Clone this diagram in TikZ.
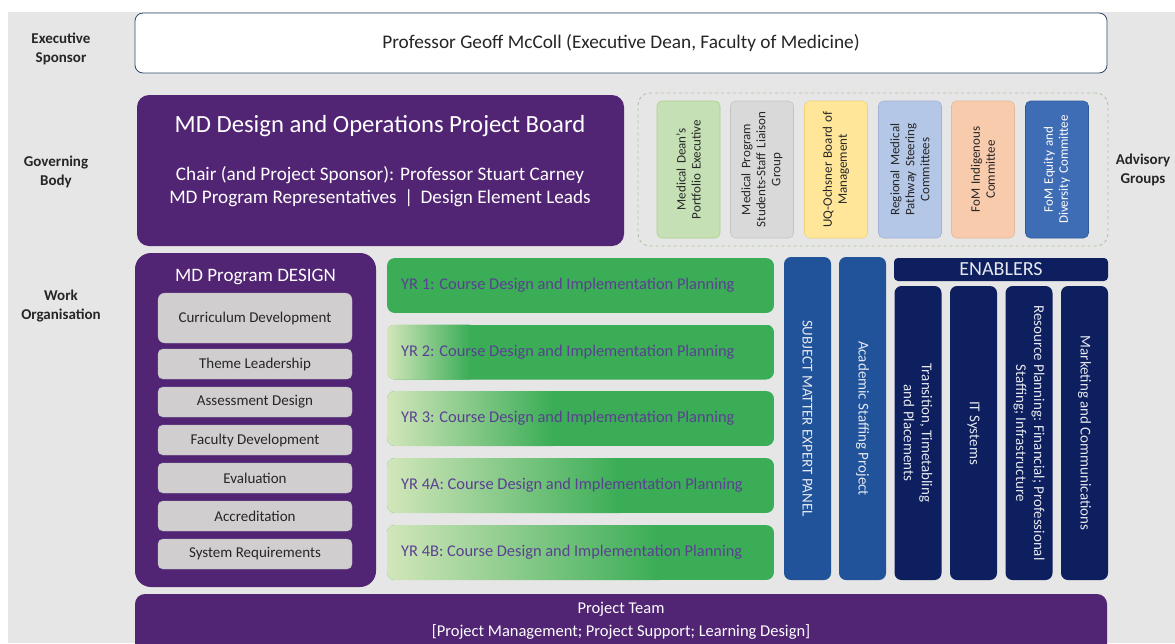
\documentclass[tikz,border=0pt]{standalone}
\usepackage{fontspec}
\setmainfont{Carlito}
\definecolor{bg}{HTML}{E7E6E6}
\definecolor{uqpurple}{HTML}{512474}
\definecolor{execline}{HTML}{2E4A6B}
\definecolor{graybox}{HTML}{D0CECE}
\definecolor{grayline}{HTML}{BFBFBF}
\definecolor{darktext}{HTML}{262626}
\definecolor{barGreen}{HTML}{3AAD56}
\definecolor{barLight}{HTML}{D2E6BA}
\definecolor{barText}{HTML}{5A4192}
\definecolor{smeBlue}{HTML}{21539A}
\definecolor{navy}{HTML}{0D1F5E}
\definecolor{paleText}{HTML}{E4E7EF}
\definecolor{frameLine}{HTML}{A8C4A0}
\definecolor{advGreen}{HTML}{C5E0B4}
\definecolor{advGreenL}{HTML}{A9D18E}
\definecolor{advGray}{HTML}{D9D9D9}
\definecolor{advGrayL}{HTML}{C4C4C4}
\definecolor{advYellow}{HTML}{FFE699}
\definecolor{advYellowL}{HTML}{EED27A}
\definecolor{advBlue}{HTML}{B4C7E7}
\definecolor{advBlueL}{HTML}{9FB3D6}
\definecolor{advPeach}{HTML}{F8CBAD}
\definecolor{advPeachL}{HTML}{E5B898}
\definecolor{advDark}{HTML}{3F6DB5}
\definecolor{advDarkL}{HTML}{2F5A9C}
\begin{document}
\begin{tikzpicture}[x=1pt,y=-1pt,
  box/.style={inner sep=0pt, outer sep=0pt, align=center},
  sidelabel/.style={box, font=\fontsize{15}{19}\selectfont\bfseries, text=darktext},
  purplebox/.style={box, fill=uqpurple, text=white},
  itembox/.style={box, fill=graybox, draw=grayline, line width=0.4pt, rounded corners=5pt,
    minimum width=194pt, minimum height=30pt, text=darktext, font=\fontsize{15}{18}\selectfont},
  bartext/.style={inner sep=0pt, anchor=west, text=barText, font=\fontsize{16.4}{18}\selectfont},
  column/.style={box, rotate=-90, rounded corners=7pt, text=paleText,
    font=\fontsize{15}{18}\selectfont},
  advbox/.style={box, rotate=90, rounded corners=5pt, line width=0.6pt,
    minimum width=137pt, minimum height=63pt, text width=132pt, text=darktext,
    font=\fontsize{13}{15}\selectfont}
]
\clip (0,0) rectangle (1175,643);
\fill[white] (0,0) rectangle (1175,643);
\fill[bg] (8,12) rectangle (1175,643);

% row labels
\node[sidelabel] (lblExec) at (61,49) {Executive\\Sponsor};
\node[sidelabel] (lblGov) at (56,172) {Governing\\Body};
\node[sidelabel] (lblWork) at (61,306) {Work\\Organisation};
\node[sidelabel] (lblAdv) at (1143,170) {Advisory\\Groups};

% executive sponsor
\node[box, draw=execline, line width=0.8pt, fill=white, rounded corners=8pt,
  minimum width=972pt, minimum height=60pt, text=darktext,
  font=\fontsize{19.3}{22}\selectfont] (exec) at (621,43)
  {Professor Geoff McColl (Executive Dean, Faculty of Medicine)};

% governing body
\node[purplebox, rounded corners=12pt, minimum width=487pt, minimum height=151pt] (board) at (380.5,170.5) {};
\node[box, text=white, font=\fontsize{24.7}{28}\selectfont] (boardTitle) at (380,126)
  {MD Design and Operations Project Board};
\node[box, text=white, font=\fontsize{19.2}{23}\selectfont] (boardBody) at (380,187)
  {Chair (and Project Sponsor): Professor Stuart Carney\\
   MD Program Representatives \,|\, Design Element Leads};

% advisory groups
\node[box, draw=frameLine, dashed, line width=0.9pt, rounded corners=12pt,
  minimum width=470pt, minimum height=153pt] (advFrame) at (873,169.5) {};
\node[advbox, fill=advGreen, draw=advGreenL] (adv1) at (688.5,169.5)
  {Medical Dean’s\\Portfolio Executive};
\node[advbox, fill=advGray, draw=advGrayL] (adv2) at (762,169.5)
  {Medical Program\\Students-Staff Liaison\\Group};
\node[advbox, fill=advYellow, draw=advYellowL] (adv3) at (836,169.5)
  {UQ-Ochsner Board of\\Management};
\node[advbox, fill=advBlue, draw=advBlueL] (adv4) at (910,169.5)
  {Regional Medical\\Pathway Steering\\Committees};
\node[advbox, fill=advPeach, draw=advPeachL] (adv5) at (983,169.5)
  {FoM Indigenous\\Committee};
\node[advbox, fill=advDark, draw=advDarkL, text=white] (adv6) at (1057,169.5)
  {FoM Equity and\\Diversity Committee};

% program design
\node[purplebox, rounded corners=16pt, minimum width=241pt, minimum height=334pt] (design) at (255.5,420) {};
\node[box, text=white, font=\fontsize{19}{22}\selectfont] (designTitle) at (255.5,277) {MD Program DESIGN};
\node[itembox, minimum height=50pt, rounded corners=7pt] (curr) at (255,318) {Curriculum Development};
\node[itembox] (theme) at (255,364) {Theme Leadership};
\node[itembox] (assess) at (255,402) {Assessment Design};
\node[itembox] (faculty) at (255,440) {Faculty Development};
\node[itembox] (evalu) at (255,478) {Evaluation};
\node[itembox] (accred) at (255,516) {Accreditation};
\node[itembox] (sysreq) at (255,554) {System Requirements};

% year planning bars (light-to-green fade grows with each year)
\foreach \name/\yc/\xe/\lbl in {
    yr1/285.5/387/{YR 1: Course Design and Implementation Planning},
    yr2/352/470/{YR 2: Course Design and Implementation Planning},
    yr3/418.5/553/{YR 3: Course Design and Implementation Planning},
    yr4a/485.5/620/{YR 4A: Course Design and Implementation Planning},
    yr4b/552.5/660/{YR 4B: Course Design and Implementation Planning}} {
  \begin{scope}
    \clip[rounded corners=8pt] (387,\yc-27.5) rectangle (774,\yc+27.5);
    \fill[barGreen] (387,\yc-27.5) rectangle (774,\yc+27.5);
    \ifdim\xe pt>387pt
      \shade[left color=barLight, right color=barGreen] (387,\yc-27.5) rectangle (\xe,\yc+27.5);
    \fi
  \end{scope}
  \node[box, minimum width=387pt, minimum height=55pt] (\name) at (580.5,\yc) {};
  \node[bartext] (\name txt) at (401,\yc) {\lbl};
}

% expert panel and staffing project
\node[column, fill=smeBlue, minimum width=323pt, minimum height=47pt] (sme) at (807.5,418.5)
  {SUBJECT MATTER EXPERT PANEL};
\node[column, fill=smeBlue, minimum width=323pt, minimum height=47pt] (staff) at (862.5,418.5)
  {Academic Staffing Project};

% enablers
\node[box, fill=navy, rounded corners=4pt, minimum width=214pt, minimum height=23pt,
  text=paleText, font=\fontsize{20}{22}\selectfont] (enablers) at (1001,269.5) {ENABLERS};
\node[column, fill=navy, minimum width=294pt, minimum height=47pt] (en1) at (918,433)
  {Transition, Timetabling\\and Placements};
\node[column, fill=navy, minimum width=294pt, minimum height=47pt] (en2) at (973.5,433)
  {IT Systems};
\node[column, fill=navy, minimum width=294pt, minimum height=47pt] (en3) at (1029,433)
  {Resource Planning: Financial; Professional\\Staffing; Infrastructure};
\node[column, fill=navy, minimum width=294pt, minimum height=47pt] (en4) at (1084.5,433)
  {Marketing and Communications};

% project team
\node[purplebox, rounded corners=10pt, minimum width=972pt, minimum height=62pt] (team) at (621,625) {};
\node[box, text=white, font=\fontsize{16.5}{23}\selectfont] (teamTxt) at (621,620.5)
  {Project Team\\{}[Project Management; Project Support; Learning Design]};
\end{tikzpicture}
\end{document}
